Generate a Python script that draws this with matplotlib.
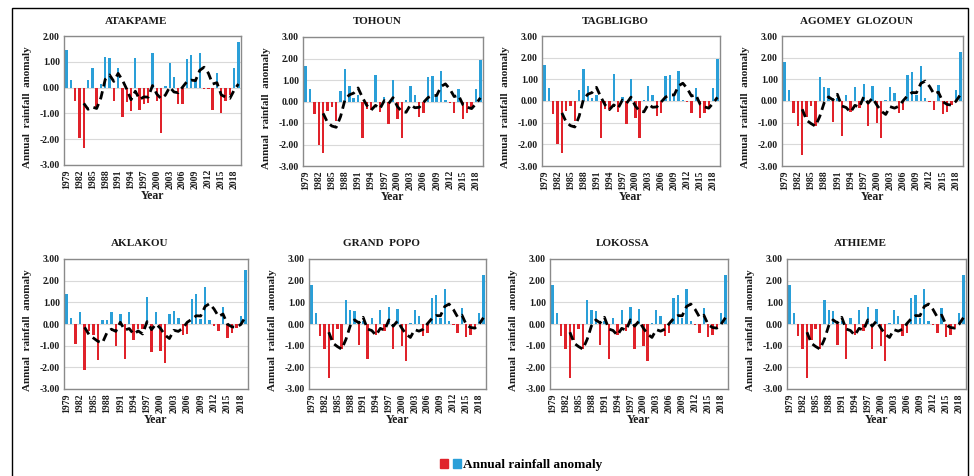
import matplotlib
matplotlib.use("Agg")
import matplotlib.pyplot as plt
import pandas as pd
from matplotlib.patches import Patch, Rectangle
from matplotlib.legend_handler import HandlerTuple

years = list(range(1979, 2020))

atakpame = [1.45, 0.30, -0.50, -1.95, -2.35, 0.30, 0.75, -0.80, 0.15, 1.20,
            1.15, -0.50, 0.75, -1.15, -0.55, -0.90, 1.15, -0.85, -0.65, -0.60,
            1.35, -0.50, -1.75, 0.05, 0.95, 0.40, -0.65, -0.65, 1.10, 1.25,
            0.30, 1.35, -0.05, -0.05, -0.85, 0.55, -1.00, -0.50, -0.30, 0.75, 1.75]
tohoun = [1.65, 0.60, -0.60, -2.00, -2.40, -0.45, -0.25, -0.90, 0.50, 1.50,
          0.70, 0.15, 0.30, -1.70, -0.35, -0.40, 1.25, -0.50, 0.20, -1.05,
          1.00, -0.80, -1.70, 0.05, 0.70, 0.30, -0.70, -0.55, 1.15, 1.20,
          0.30, 1.40, 0.05, -0.05, -0.55, 0.60, -0.80, -0.55, -0.35, 0.60, 1.95]
tagbligbo = [1.65, 0.60, -0.60, -2.00, -2.40, -0.45, -0.25, -0.90, 0.50, 1.50,
             0.70, 0.15, 0.30, -1.70, -0.35, -0.40, 1.25, -0.50, 0.20, -1.05,
             1.00, -0.80, -1.70, 0.05, 0.70, 0.30, -0.70, -0.55, 1.15, 1.20,
             0.30, 1.40, 0.05, -0.05, -0.55, 0.60, -0.80, -0.55, -0.35, 0.60, 1.95]
agomey = [1.80, 0.50, -0.55, -1.15, -2.50, -0.75, -0.25, -1.15, 1.10, 0.65,
          0.60, -0.95, 0.15, -1.60, 0.30, -0.50, 0.65, -0.30, 0.80, -1.15,
          0.70, -1.00, -1.70, 0.05, 0.65, 0.35, -0.55, -0.40, 1.20, 1.35,
          0.30, 1.60, 0.15, -0.05, -0.40, 0.75, -0.60, -0.50, -0.20, 0.50, 2.25]
aklakou = [1.40, 0.30, -0.90, 0.55, -2.10, -0.30, -0.50, -1.65, 0.20, 0.20,
           0.55, -1.00, 0.45, -1.60, 0.55, -0.75, -0.25, -0.25, 1.25, -1.30,
           0.55, -1.25, -1.80, 0.45, 0.60, 0.30, -0.50, -0.45, 1.15, 1.40,
           0.25, 1.70, 0.20, -0.10, -0.30, 0.80, -0.65, -0.40, -0.20, 0.35, 2.50]
grand_popo = list(agomey)
lokossa = list(agomey)
athieme = list(agomey)

stations = ["ATAKPAME", "TOHOUN", "TAGBLIGBO", "AGOMEY  GLOZOUN",
            "AKLAKOU", "GRAND  POPO", "LOKOSSA", "ATHIEME"]
series = [atakpame, tohoun, tagbligbo, agomey, aklakou, grand_popo, lokossa, athieme]
ymax = [2, 3, 3, 3, 3, 3, 3, 3]

RED = "#e0222a"
BLUE = "#2a9fd8"
FONT = "Liberation Serif"
TXT = "#1a1a1a"

W, H = 974, 476
fig = plt.figure(figsize=(W / 100, H / 100), dpi=100)

# plot-area boxes in pixels: (left, right, top, bottom)
boxes = [(64, 241, 36, 165), (303, 483, 37, 166), (542, 720, 36, 166), (782, 963, 36, 166),
         (64, 248, 259, 389), (309, 486, 259, 389), (550, 728, 259, 389), (787, 966, 259, 389)]

x = list(range(len(years)))
for name, vals, top, (l, r, t, b) in zip(stations, series, ymax, boxes):
    ax = fig.add_axes([l / W, 1 - b / H, (r - l) / W, (b - t) / H])
    cols = [BLUE if v >= 0 else RED for v in vals]
    ax.bar(x, vals, width=0.55, color=cols, linewidth=0, zorder=2)
    ma = pd.Series(vals).rolling(5).mean()
    ax.plot(x, ma, color="black", lw=2.0, linestyle=(0, (3, 1.8)), zorder=3)
    ax.set_xlim(-0.6, len(years) - 0.4)
    ax.set_ylim(-3, top)
    ax.set_yticks(range(-3, top + 1))
    ax.set_yticklabels([f"{v:.2f}" for v in range(-3, top + 1)],
                       fontsize=7, fontweight="bold", family=FONT, color=TXT)
    ax.set_xticks(x[::3])
    ax.set_xticklabels([str(y) for y in years[::3]], rotation=90,
                       fontsize=7, fontweight="bold", family=FONT, color=TXT)
    ax.tick_params(length=0, pad=3)
    ax.grid(axis="y", color="#d9d9d9", lw=0.8, zorder=0)
    for s in ax.spines.values():
        s.set_color("#8a8a8a")
        s.set_linewidth(1)
    ax.set_xlabel("Year", fontsize=8.5, fontweight="bold", family=FONT, color=TXT, labelpad=1)
    ax.set_ylabel("Annual  rainfall  anomaly", fontsize=8, fontweight="bold",
                  family=FONT, color=TXT)
    ax.yaxis.set_label_coords(-32 / (r - l), 0.45)
    fig.text(((l + r) / 2 - 16) / W, 1 - (t - 15) / H, name, ha="center", va="center",
             fontsize=8, fontweight="bold", family=FONT, color=TXT)

# legend
handles = [(Patch(color=RED), Patch(color=BLUE))]
fig.legend(handles, ["Annual rainfall anomaly"], loc="center",
           bbox_to_anchor=(0.535, 1 - 465 / H), frameon=False,
           handler_map={tuple: HandlerTuple(ndivide=None, pad=0.4)},
           handlelength=1.6, handleheight=0.7, handletextpad=0.2,
           prop={"family": FONT, "weight": "bold", "size": 9.5})

# outer frame
fig.patches.append(Rectangle((12 / W, -0.01), (968 - 12) / W, 1 - 8 / H + 0.01,
                             fill=False, lw=1, edgecolor="black",
                             transform=fig.transFigure))

fig.savefig("out.png", dpi=100)
